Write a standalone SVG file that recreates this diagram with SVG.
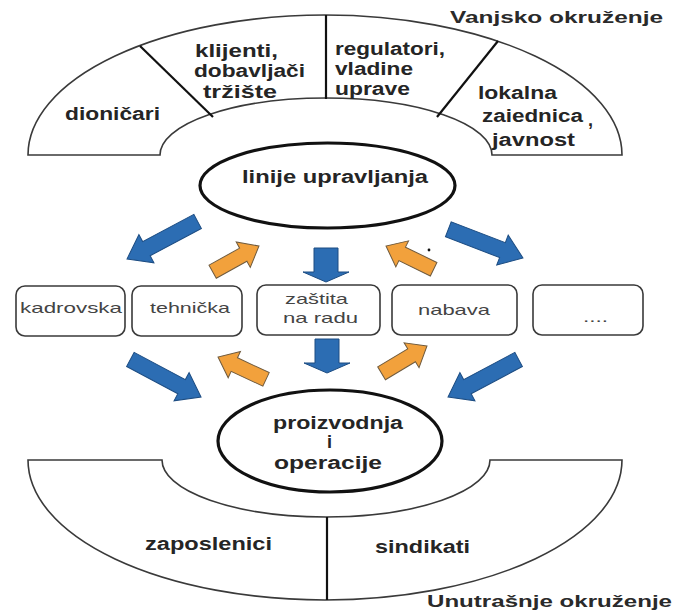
<svg xmlns="http://www.w3.org/2000/svg" width="675" height="611" viewBox="0 0 675 611">
  <style>
    .band { fill: #fff; stroke: #3a3a3a; stroke-width: 1.6; }
    .divider { stroke: #111; stroke-width: 2.2; fill: none; }
    .oval { fill: #fff; stroke: #111; stroke-width: 3.2; }
    .box { fill: #fff; stroke: #3a3a3a; stroke-width: 1.6; }
    .lbl { font-family: "Liberation Sans", Arial, sans-serif; font-weight: bold; font-size: 18px; fill: #252525; }
    .title { font-family: "Liberation Sans", Arial, sans-serif; font-weight: bold; font-size: 17px; fill: #2a2a2a; }
    .boxlbl { font-family: "Liberation Sans", Arial, sans-serif; font-size: 15px; fill: #444; }
    .blue { fill: #2c6db3; stroke: #1c4c82; stroke-width: 1; }
    .orange { fill: #f2a13c; stroke: #6e5a3e; stroke-width: 1; }
  </style>
  <defs>
    <!-- block arrows drawn pointing along +x with the tip at the origin -->
    <path id="diagArrow" d="M0,0 L-22,-16 L-22,-8 L-80,-8 L-80,8 L-22,8 L-22,16 Z"/>
    <path id="smallArrow" d="M0,0 L-18,-14.5 L-18,-7.5 L-53,-7.5 L-53,7.5 L-18,7.5 L-18,14.5 Z"/>
    <path id="downArrow" d="M0,0 L-10,-23 L-10,-12 L-34,-12 L-34,12 L-10,12 L-10,23 Z"/>
  </defs>

  <rect width="675" height="611" fill="#fff"/>

  <!-- external environment band -->
  <g id="external-band">
    <path class="band" d="M28,155 A297,140 0 0 1 622,155 L492,155 A166,57 0 0 0 160,155 Z"/>
    <line class="divider" x1="140" y1="46" x2="213" y2="117"/>
    <line class="divider" x1="326" y1="15" x2="326" y2="99"/>
    <line class="divider" x1="498" y1="41" x2="437" y2="117"/>
    <text class="title" x="450" y="23" textLength="213" lengthAdjust="spacingAndGlyphs">Vanjsko okruženje</text>
  </g>
  <g id="dionicari">
    <text class="lbl" x="65" y="120" textLength="95" lengthAdjust="spacingAndGlyphs">dioničari</text>
  </g>
  <g id="klijenti">
    <text class="lbl" x="195" y="57" textLength="83" lengthAdjust="spacingAndGlyphs">klijenti,</text>
    <text class="lbl" x="194" y="77" textLength="111" lengthAdjust="spacingAndGlyphs">dobavljači</text>
    <text class="lbl" x="203" y="98" textLength="74" lengthAdjust="spacingAndGlyphs">tržište</text>
  </g>
  <g id="regulatori">
    <text class="lbl" x="335" y="55" textLength="110" lengthAdjust="spacingAndGlyphs">regulatori,</text>
    <text class="lbl" x="335" y="75" textLength="78" lengthAdjust="spacingAndGlyphs">vladine</text>
    <text class="lbl" x="335" y="95" textLength="75" lengthAdjust="spacingAndGlyphs">uprave</text>
  </g>
  <g id="lokalna">
    <text class="lbl" x="478" y="99" textLength="79" lengthAdjust="spacingAndGlyphs">lokalna</text>
    <text class="lbl" x="482" y="122" textLength="101" lengthAdjust="spacingAndGlyphs">zaiednica</text>
    <text class="lbl" x="588" y="126">,</text>
    <text class="lbl" x="492" y="146" textLength="83" lengthAdjust="spacingAndGlyphs">javnost</text>
  </g>

  <!-- management line -->
  <g id="linije-upravljanja">
    <ellipse class="oval" cx="327.5" cy="185.5" rx="127.5" ry="42.5"/>
    <text class="lbl" x="242" y="183" textLength="186" lengthAdjust="spacingAndGlyphs">linije upravljanja</text>
  </g>

  <!-- functions row -->
  <g id="kadrovska">
    <rect class="box" x="16" y="286" width="109" height="50" rx="9"/>
    <text class="boxlbl" x="20" y="313" textLength="102" lengthAdjust="spacingAndGlyphs">kadrovska</text>
  </g>
  <g id="tehnicka">
    <rect class="box" x="132" y="286" width="110" height="50" rx="9"/>
    <text class="boxlbl" x="150" y="313" textLength="80" lengthAdjust="spacingAndGlyphs">tehnička</text>
  </g>
  <g id="zastita">
    <rect class="box" x="257" y="285" width="123" height="50" rx="9"/>
    <text class="boxlbl" x="285" y="304" textLength="63" lengthAdjust="spacingAndGlyphs">zaštita</text>
    <text class="boxlbl" x="283" y="323" textLength="75" lengthAdjust="spacingAndGlyphs">na radu</text>
  </g>
  <g id="nabava">
    <rect class="box" x="392" y="285" width="125" height="50" rx="9"/>
    <text class="boxlbl" x="418" y="315" textLength="72" lengthAdjust="spacingAndGlyphs">nabava</text>
  </g>
  <g id="ostalo">
    <rect class="box" x="533" y="285" width="110" height="50" rx="9"/>
    <text class="boxlbl" x="583" y="322" font-size="10" fill="#aaa" textLength="25" lengthAdjust="spacingAndGlyphs">....</text>
  </g>

  <!-- production and operations -->
  <g id="proizvodnja">
    <ellipse class="oval" cx="330" cy="441" rx="112" ry="51"/>
    <text class="lbl" x="273" y="429" textLength="130" lengthAdjust="spacingAndGlyphs">proizvodnja</text>
    <text class="lbl" x="327" y="448">i</text>
    <text class="lbl" x="274" y="469" textLength="108" lengthAdjust="spacingAndGlyphs">operacije</text>
  </g>

  <!-- internal environment band -->
  <g id="internal-band">
    <path class="band" d="M28,460 A297,140 0 0 0 622,460 L490,460 A164,57 0 0 1 162,460 Z"/>
    <line class="divider" x1="327" y1="517" x2="327" y2="600" stroke-width="1.6"/>
    <text class="title" x="427" y="607" textLength="245" lengthAdjust="spacingAndGlyphs">Unutrašnje okruženje</text>
  </g>
  <g id="zaposlenici">
    <text class="lbl" x="145" y="550" textLength="127" lengthAdjust="spacingAndGlyphs">zaposlenici</text>
  </g>
  <g id="sindikati">
    <text class="lbl" x="375" y="553" textLength="95" lengthAdjust="spacingAndGlyphs">sindikati</text>
  </g>

  <!-- connectors -->
  <g id="connectors">
    <use href="#diagArrow" class="blue" transform="translate(127,259) rotate(152)"/>
    <use href="#smallArrow" class="orange" transform="translate(259,246) rotate(-29)"/>
    <use href="#downArrow" class="blue" transform="translate(326,282) rotate(90)"/>
    <use href="#smallArrow" class="orange" transform="translate(386,246) rotate(-154)"/>
    <use href="#diagArrow" class="blue" transform="translate(523,258) rotate(21)"/>
    <use href="#diagArrow" class="blue" transform="translate(201,397) rotate(28)"/>
    <use href="#smallArrow" class="orange" transform="translate(218,357) rotate(-155)"/>
    <use href="#downArrow" class="blue" transform="translate(327,373) rotate(90)"/>
    <use href="#smallArrow" class="orange" transform="translate(427,346) rotate(-31)"/>
    <use href="#diagArrow" class="blue" transform="translate(448,397) rotate(152)"/>
  </g>
  <circle cx="429" cy="250" r="1.4" fill="#111"/>
</svg>
